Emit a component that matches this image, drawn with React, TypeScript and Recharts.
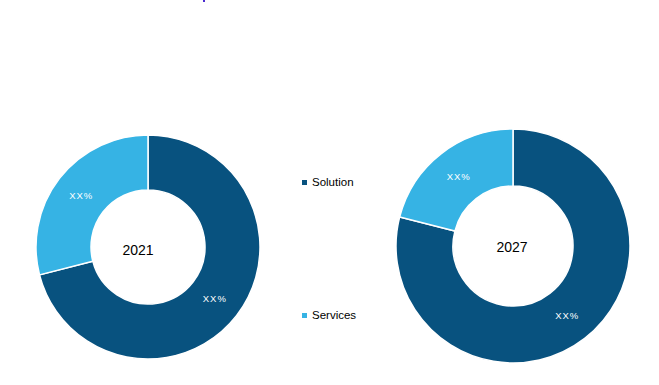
import React from "react";
import { PieChart, Pie, Cell, Legend } from "recharts";

const categories = ["Solution", "Services"];
const colors = ["#08527F", "#36B3E4"];
const values2021 = [71, 29];
const values2027 = [79, 21];
const sliceLabel = "XX%";
const years = ["2021", "2027"];

const data2021 = categories.map((name, i) => ({ name, value: values2021[i] }));
const data2027 = categories.map((name, i) => ({ name, value: values2027[i] }));

const RAD = Math.PI / 180;
const renderLabel = (p: any) => {
  const r = (p.innerRadius + p.outerRadius) / 2;
  const x = p.cx + r * Math.cos(-p.midAngle * RAD);
  const y = p.cy + r * Math.sin(-p.midAngle * RAD);
  return (
    <text
      x={x}
      y={y}
      fill="#ffffff"
      textAnchor="middle"
      dominantBaseline="central"
      fontSize={9.5}
      letterSpacing={1}
      fontFamily="'Liberation Sans', Arial, sans-serif"
    >
      {sliceLabel}
    </text>
  );
};

const legendContent = () => (
  <div style={{ position: "absolute", left: 0, top: 0 }}>
    {categories.map((c, i) => (
      <div
        key={c}
        style={{
          position: "absolute",
          left: 302,
          top: i === 0 ? 176 : 309,
          display: "flex",
          alignItems: "center",
          whiteSpace: "nowrap",
          fontFamily: "'Liberation Sans', Arial, sans-serif",
          fontSize: 11.5,
          color: "#000",
        }}
      >
        <span style={{ width: 5, height: 5, background: colors[i], display: "inline-block", marginRight: 5 }} />
        {c}
      </div>
    ))}
  </div>
);

export default function App() {
  return (
    <div style={{ position: "absolute", left: 0, top: 0, width: 659, height: 385, background: "#fff" }}>
      <div style={{ position: "absolute", left: 203, top: 0, width: 2, height: 2, background: "#4a2bd0" }} />
      <PieChart width={659} height={385} margin={{ top: 0, right: 0, bottom: 0, left: 0 }}>
        <Pie
          data={data2021}
          dataKey="value"
          nameKey="name"
          cx={148}
          cy={247}
          innerRadius={57}
          outerRadius={112}
          startAngle={90}
          endAngle={-270}
          stroke="#ffffff"
          strokeWidth={1.5}
          label={renderLabel}
          labelLine={false}
          isAnimationActive={false}
        >
          {data2021.map((d, i) => (
            <Cell key={d.name} fill={colors[i]} />
          ))}
        </Pie>
        <Pie
          data={data2027}
          dataKey="value"
          nameKey="name"
          cx={513}
          cy={246}
          innerRadius={60}
          outerRadius={117}
          startAngle={90}
          endAngle={-270}
          stroke="#ffffff"
          strokeWidth={1.5}
          label={renderLabel}
          labelLine={false}
          isAnimationActive={false}
        >
          {data2027.map((d, i) => (
            <Cell key={d.name} fill={colors[i]} />
          ))}
        </Pie>
        <text x={138} y={250} textAnchor="middle" dominantBaseline="central" fontSize={14} fontFamily="'Liberation Sans', Arial, sans-serif" fill="#000">
          {years[0]}
        </text>
        <text x={512} y={247} textAnchor="middle" dominantBaseline="central" fontSize={14} fontFamily="'Liberation Sans', Arial, sans-serif" fill="#000">
          {years[1]}
        </text>
        <Legend content={legendContent} wrapperStyle={{ position: "absolute", left: 0, top: 0, width: 0, height: 0 }} />
      </PieChart>
    </div>
  );
}
